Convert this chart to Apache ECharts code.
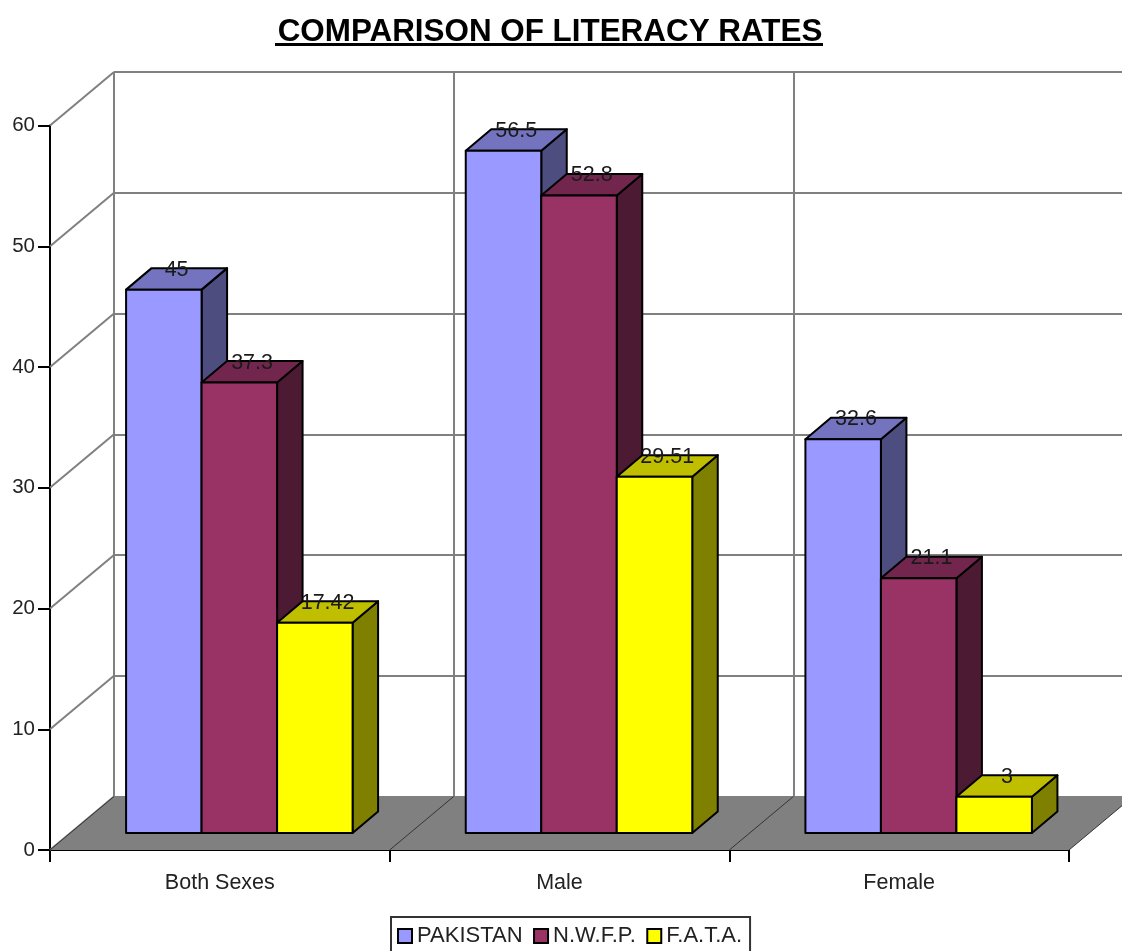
<!DOCTYPE html>
<html>
<head>
<meta charset="utf-8">
<title>Comparison of literacy rates</title>
<style>
    html, body { margin: 0; padding: 0; background: #fff; }
    #chart { width: 1122px; height: 951px; }
</style>
<script src="https://cdn.jsdelivr.net/npm/echarts@6/dist/echarts.min.js"></script>
</head>
<body>
<div id="chart"></div>
<script>
// 数据
const categories = ['Both Sexes', 'Male', 'Female'];
const seriesNames = ['PAKISTAN', 'N.W.F.P.', 'F.A.T.A.'];
const pakistanValues = [45, 56.5, 32.6];
const nwfpValues = [37.3, 52.8, 21.1];
const fataValues = [17.42, 29.51, 3];
const yTicks = [0, 10, 20, 30, 40, 50, 60];

// front, top, side
const barColors = [
    ['#9999ff', '#7373bf', '#4d4d80'],
    ['#993366', '#73264d', '#4d1a33'],
    ['#ffff00', '#bfbf00', '#808000'],
];

const FONT = '"Liberation Sans", Arial, sans-serif';
const WALL_DX = 64, WALL_DY = -53.5; // depth of the whole box
const BAR_DX = 25.5, BAR_DY = -21.5; // depth of one bar
const BAR_SHIFT_X = 19.5, BAR_SHIFT_Y = -17; // bars stand a bit inside the floor
const BAR_WIDTH = 75.5;

// 一根3D柱子：正面 + 顶面 + 侧面 + 数值
function barRenderer(seriesIndex) {
    return function (params, api) {
        const idx = api.value(0);
        const val = api.value(1);
        const top = api.coord([idx, val]);
        const base = api.coord([idx, 0]);
        const x0 = top[0] + BAR_SHIFT_X + (seriesIndex - 1.5) * BAR_WIDTH;
        const x1 = x0 + BAR_WIDTH;
        const y0 = top[1] + BAR_SHIFT_Y;
        const y1 = base[1] + BAR_SHIFT_Y;
        const colors = barColors[seriesIndex];
        const edge = { stroke: '#000', lineWidth: 2, lineJoin: 'round' };
        return {
            type: 'group',
            children: [
                {
                    type: 'polygon',
                    shape: { points: [[x1, y0], [x1 + BAR_DX, y0 + BAR_DY], [x1 + BAR_DX, y1 + BAR_DY], [x1, y1]] },
                    style: Object.assign({ fill: colors[2] }, edge),
                },
                {
                    type: 'polygon',
                    shape: { points: [[x0, y0], [x0 + BAR_DX, y0 + BAR_DY], [x1 + BAR_DX, y0 + BAR_DY], [x1, y0]] },
                    style: Object.assign({ fill: colors[1] }, edge),
                },
                {
                    type: 'rect',
                    shape: { x: x0, y: y0, width: BAR_WIDTH, height: y1 - y0 },
                    style: Object.assign({ fill: colors[0] }, edge),
                },
                {
                    type: 'text',
                    z2: 100,
                    x: (x0 + x1) / 2 + BAR_DX / 2,
                    y: y0 + BAR_DY + 1.5,
                    style: {
                        text: String(val),
                        fill: '#1a1a1a',
                        font: '21.5px ' + FONT,
                        align: 'center',
                        verticalAlign: 'middle',
                    },
                },
            ],
        };
    };
}

// 左侧墙的斜线
function sideWallRenderer(params, api) {
    const p = api.coord([0, api.value(0)]);
    const x = params.coordSys.x;
    return {
        type: 'line',
        shape: { x1: x, y1: p[1], x2: x + WALL_DX, y2: p[1] + WALL_DY },
        style: { stroke: '#808080', lineWidth: 2 },
    };
}

// 灰色地面
function floorRenderer(params, api) {
    const c = params.coordSys;
    const y = c.y + c.height;
    return {
        type: 'polygon',
        shape: { points: [[c.x, y], [c.x + WALL_DX, y + WALL_DY], [c.x + c.width + WALL_DX, y + WALL_DY], [c.x + c.width, y]] },
        style: { fill: '#808080' },
    };
}

// 地面上的分隔斜线
function floorLineRenderer(params, api) {
    const c = params.coordSys;
    const x = c.x + c.width * api.value(0) / categories.length;
    const y = c.y + c.height;
    return {
        type: 'line',
        shape: { x1: x, y1: y, x2: x + WALL_DX, y2: y + WALL_DY },
        style: { stroke: '#333', lineWidth: 1 },
    };
}

const allValues = [pakistanValues, nwfpValues, fataValues];
const barSeries = seriesNames.map((name, i) => ({
    type: 'custom',
    name: name,
    xAxisIndex: 0,
    yAxisIndex: 0,
    z: 5,
    itemStyle: { color: barColors[i][0] },
    renderItem: barRenderer(i),
    data: allValues[i].map((v, idx) => [idx, v]),
}));

const option = {
    animation: false,
    backgroundColor: '#fff',
    title: {
        text: 'COMPARISON OF LITERACY RATES',
        left: 545,
        textAlign: 'center',
        top: 12,
        textStyle: { fontFamily: FONT, fontSize: 31.4, fontWeight: 'bold', color: '#000' },
    },
    graphic: [{
        type: 'rect',
        shape: { x: 275, y: 43, width: 548, height: 3 },
        style: { fill: '#000' },
    }],
    legend: {
        data: seriesNames,
        left: 391,
        top: 917,
        orient: 'horizontal',
        icon: 'rect',
        itemWidth: 14,
        itemHeight: 14,
        itemGap: 10.5,
        padding: [8, 8, 8, 6],
        borderColor: '#333',
        borderWidth: 2,
        itemStyle: { borderColor: '#000', borderWidth: 2 },
        textStyle: { fontFamily: FONT, fontSize: 22, color: '#222' },
    },
    grid: [
        { left: 50, top: 125.5, width: 1019, height: 724.5, outerBoundsMode: 'none' }, // front plane
        { left: 114, top: 72, width: 1019, height: 724.5, outerBoundsMode: 'none' }, // back wall
    ],
    xAxis: [
        {
            type: 'category',
            gridIndex: 0,
            data: categories,
            axisLine: { lineStyle: { color: '#000', width: 2 } },
            axisTick: { show: true, length: 12, lineStyle: { color: '#000', width: 2 } },
            axisLabel: { fontFamily: FONT, fontSize: 21.5, color: '#222', margin: 22 },
        },
        {
            type: 'category',
            gridIndex: 1,
            data: categories,
            axisLine: { show: false },
            axisTick: { show: false },
            axisLabel: { show: false },
            splitLine: { show: true, lineStyle: { color: '#808080', width: 2 } },
        },
    ],
    yAxis: [
        {
            type: 'value',
            gridIndex: 0,
            min: 0,
            max: 60,
            interval: 10,
            axisLine: { show: true, lineStyle: { color: '#000', width: 2 } },
            axisTick: { show: true, length: 12, lineStyle: { color: '#000', width: 2 } },
            axisLabel: { fontFamily: FONT, fontSize: 20.5, color: '#222', margin: 15 },
            splitLine: { show: false },
        },
        {
            type: 'value',
            gridIndex: 1,
            min: 0,
            max: 60,
            interval: 10,
            axisLine: { show: false },
            axisTick: { show: false },
            axisLabel: { show: false },
            splitLine: { show: true, lineStyle: { color: '#808080', width: 2 } },
        },
    ],
    series: [
        { type: 'custom', xAxisIndex: 0, yAxisIndex: 0, z: 1, renderItem: sideWallRenderer, data: yTicks.map(v => [v]), silent: true },
        { type: 'custom', xAxisIndex: 0, yAxisIndex: 0, z: 2, renderItem: floorRenderer, data: [[0]], silent: true },
        { type: 'custom', xAxisIndex: 0, yAxisIndex: 0, z: 3, renderItem: floorLineRenderer, data: [[0], [1], [2], [3]], silent: true },
    ].concat(barSeries),
};

const myChart = echarts.init(document.getElementById('chart'));
myChart.setOption(option);
</script>
</body>
</html>
